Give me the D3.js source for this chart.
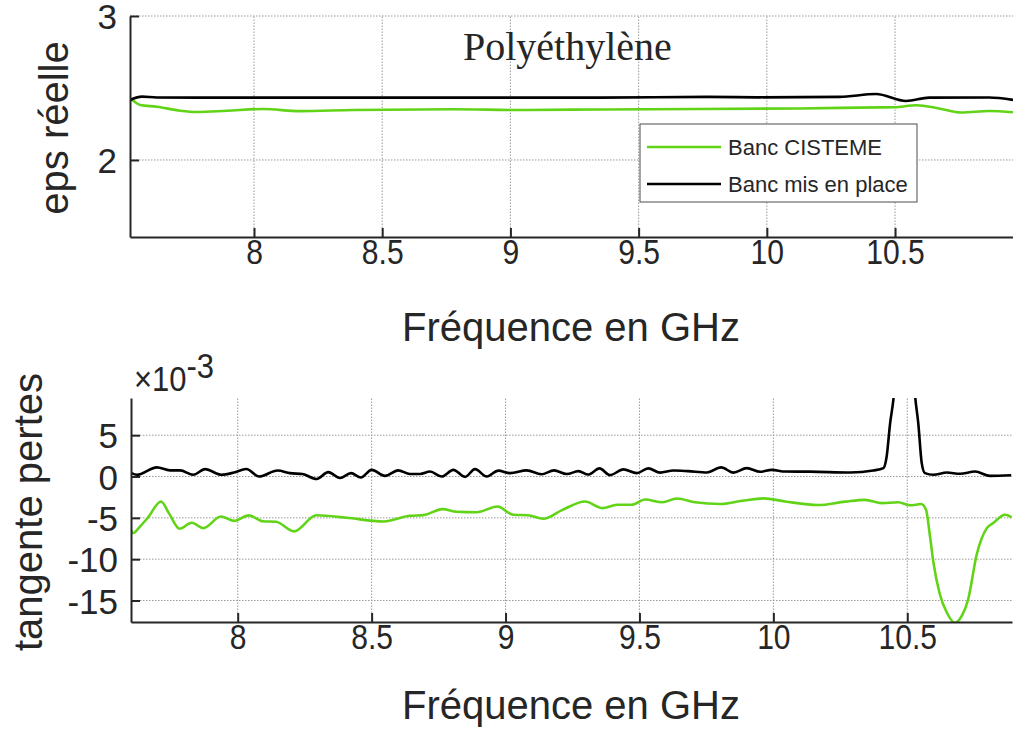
<!DOCTYPE html>
<html>
<head>
<meta charset="utf-8">
<script src="https://cdn.jsdelivr.net/npm/d3@7"></script>
<style>
    body { margin: 0; background: #fff; }
    text { font-family: "Liberation Sans", Arial, sans-serif; fill: #262626; }
</style>
</head>
<body>
<svg id="chart" width="1013" height="731"></svg>
<script>
// ---- data ----
const seriesNames = ["Banc CISTEME", "Banc mis en place"];
const freqTicks = [8, 8.5, 9, 9.5, 10, 10.5];
const epsTicks = [2, 3];
const tanTicks = [-15, -10, -5, 0, 5];   // in units of 1e-3

// eps réelle, green = Banc CISTEME
const epsFreqGreen = [7.517, 7.524, 7.556, 7.621, 7.712, 7.777, 7.894, 8.036, 8.179, 8.387, 8.776, 9.036, 9.348, 9.737, 10.127, 10.439, 10.497, 10.583, 10.672, 10.758, 10.867, 10.96];
const epsGreen = [2.424, 2.417, 2.382, 2.370, 2.342, 2.333, 2.342, 2.354, 2.339, 2.347, 2.352, 2.347, 2.351, 2.354, 2.358, 2.365, 2.366, 2.380, 2.358, 2.330, 2.340, 2.331];
// eps réelle, black = Banc mis en place
const epsFreqBlack = [7.517, 7.563, 7.621, 7.790, 9.348, 9.769, 9.971, 10.283, 10.426, 10.543, 10.633, 10.867, 10.96];
const epsBlack = [2.417, 2.440, 2.434, 2.433, 2.433, 2.438, 2.435, 2.438, 2.458, 2.410, 2.433, 2.434, 2.417];

// tangente pertes (x 1e-3), green = Banc CISTEME
const tanFreqGreen = [7.598, 7.610, 7.635, 7.663, 7.714, 7.743, 7.783, 7.828, 7.872, 7.937, 7.986, 8.042, 8.094, 8.143, 8.210, 8.294, 8.407, 8.544, 8.643, 8.693, 8.765, 8.818, 8.892, 8.970, 9.029, 9.084, 9.141, 9.211, 9.297, 9.362, 9.416, 9.472, 9.521, 9.586, 9.639, 9.708, 9.801, 9.883, 9.963, 10.044, 10.167, 10.268, 10.342, 10.405, 10.466, 10.510, 10.552, 10.570, 10.585, 10.597, 10.622, 10.648, 10.677, 10.704, 10.727, 10.759, 10.797, 10.821, 10.865, 10.890];
const tanGreen = [-6.24, -6.84, -6.05, -5.05, -3.02, -4.43, -6.32, -5.60, -6.24, -4.84, -5.36, -4.70, -5.42, -5.48, -6.63, -4.69, -4.99, -5.44, -4.75, -4.67, -3.94, -4.27, -4.33, -3.63, -4.63, -4.69, -5.11, -4.06, -3.02, -3.82, -3.42, -3.42, -2.78, -3.12, -2.66, -3.12, -3.33, -2.94, -2.64, -3.02, -3.45, -3.04, -2.82, -3.22, -3.12, -3.48, -3.33, -4.03, -7.26, -10.27, -14.30, -16.48, -17.69, -16.84, -14.91, -9.47, -6.24, -5.63, -4.63, -4.93];
// tangente pertes (x 1e-3), black = Banc mis en place
const tanFreqBlack = [7.604, 7.623, 7.698, 7.747, 7.785, 7.834, 7.878, 7.940, 7.986, 8.032, 8.080, 8.149, 8.195, 8.242, 8.295, 8.338, 8.382, 8.423, 8.460, 8.500, 8.550, 8.599, 8.643, 8.681, 8.718, 8.762, 8.805, 8.849, 8.886, 8.930, 8.973, 9.017, 9.079, 9.134, 9.181, 9.229, 9.272, 9.309, 9.351, 9.390, 9.440, 9.490, 9.533, 9.577, 9.627, 9.681, 9.752, 9.805, 9.851, 9.901, 9.951, 9.994, 10.044, 10.137, 10.287, 10.373, 10.411, 10.423, 10.436, 10.448, 10.465, 10.49, 10.515, 10.530, 10.541, 10.554, 10.566, 10.597, 10.648, 10.697, 10.753, 10.809, 10.888];
const tanBlack = [0.41, 0.21, 1.11, 0.75, 0.75, 0.21, 0.89, 0.21, 0.48, 0.91, 0.0, 0.73, 0.41, 0.30, -0.30, 0.53, -0.18, 0.41, -0.12, 0.81, 0.08, 0.75, 0.30, 0.30, 0.60, 0.0, 0.81, -0.04, 0.89, 0.0, 0.71, 0.41, 0.75, 0.27, 0.75, 0.30, 0.65, 0.24, 0.99, 0.17, 0.86, 0.41, 0.99, 0.47, 0.73, 0.65, 0.48, 1.11, 0.47, 1.02, 0.57, 0.81, 0.60, 0.59, 0.48, 0.73, 1.02, 2.42, 6.46, 9.27, 16, 22, 16, 9.48, 6.46, 1.62, 0.41, 0.21, 0.48, 0.33, 0.60, 0.08, 0.15];

const green = "#62d418";
const black = "#000000";
const axisColor = "#262626";
// the figure's x tick lettering is a bit narrow, squeeze it sideways
const tickSquash = 0.86;

const svg = d3.select("#chart");

// Axis limits (as in the figure)
const xTop = d3.scaleLinear().domain([7.5164, 10.96]).range([130, 1013]);
const yTop = d3.scaleLinear().domain([1.465, 3]).range([237, 16]);
const xBot = d3.scaleLinear().domain([7.6016, 10.891]).range([131, 1012]);
const yBot = d3.scaleLinear().domain([-17.6, 9.5]).range([622, 398]);

function drawPanel(id, x, y, yTicks) {
    const [x0, x1] = x.range();
    const [y0, y1] = y.range();

    svg.append("clipPath").attr("id", id)
        .append("rect")
        .attr("x", x0).attr("y", y1)
        .attr("width", x1 - x0).attr("height", y0 - y1);

    const g = svg.append("g");

    // dotted grid
    g.selectAll(".vgrid").data(freqTicks).enter().append("line")
        .attr("x1", d => x(d)).attr("x2", d => x(d))
        .attr("y1", y0).attr("y2", y1)
        .attr("stroke", "#9a9a9a").attr("stroke-width", 1)
        .attr("stroke-dasharray", "1.5,1.5");
    g.selectAll(".hgrid").data(yTicks).enter().append("line")
        .attr("x1", x0).attr("x2", x1)
        .attr("y1", d => y(d)).attr("y2", d => y(d))
        .attr("stroke", "#9a9a9a").attr("stroke-width", 1)
        .attr("stroke-dasharray", "1.5,1.5");

    // axes, ticks pointing inward like matlab
    const xAxis = svg.append("g")
        .attr("transform", `translate(0,${y0})`)
        .call(d3.axisBottom(x).tickValues(freqTicks).tickSizeInner(-9).tickSizeOuter(0).tickFormat(d => String(d)));
    xAxis.select(".domain").attr("stroke", axisColor).attr("stroke-width", 2);
    xAxis.selectAll(".tick line").attr("stroke", axisColor).attr("stroke-width", 2);
    xAxis.selectAll("text")
        .attr("y", 2).attr("dy", "0.71em")
        .attr("transform", `scale(${tickSquash},1)`)
        .style("font-size", "35px").style("font-family", "'Liberation Sans', Arial, sans-serif")
        .attr("fill", axisColor);

    const yAxis = svg.append("g")
        .attr("transform", `translate(${x0},0)`)
        .call(d3.axisLeft(y).tickValues(yTicks).tickSizeInner(-9).tickSizeOuter(0).tickFormat(d => String(d)));
    yAxis.select(".domain").attr("stroke", axisColor).attr("stroke-width", 2);
    yAxis.selectAll(".tick line").attr("stroke", axisColor).attr("stroke-width", 2);
    yAxis.selectAll("text")
        .attr("x", -13).attr("dy", "0.36em")
        .style("font-size", "35px").style("font-family", "'Liberation Sans', Arial, sans-serif")
        .attr("fill", axisColor);

    return g;
}

function drawLine(g, clipId, x, y, freqs, vals, color) {
    const line = d3.line()
        .x(d => x(d[0]))
        .y(d => y(d[1]))
        .curve(d3.curveMonotoneX);
    g.append("path")
        .datum(d3.zip(freqs, vals))
        .attr("clip-path", `url(#${clipId})`)
        .attr("fill", "none")
        .attr("stroke", color)
        .attr("stroke-width", 2.6)
        .attr("stroke-linejoin", "round")
        .attr("d", line);
}

// ---- top panel: eps réelle ----
const gTop = drawPanel("clipTop", xTop, yTop, epsTicks);
drawLine(gTop, "clipTop", xTop, yTop, epsFreqGreen, epsGreen, green);
drawLine(gTop, "clipTop", xTop, yTop, epsFreqBlack, epsBlack, black);

svg.append("text")
    .attr("x", 463).attr("y", 60)
    .style("font-family", "'Liberation Serif', 'Times New Roman', serif")
    .style("font-size", "40px")
    .attr("fill", "#000")
    .text("Polyéthylène");

svg.append("text")
    .attr("transform", "translate(68,128) rotate(-90)")
    .attr("text-anchor", "middle")
    .style("font-size", "40px")
    .text("eps réelle");

svg.append("text")
    .attr("x", 571).attr("y", 341)
    .attr("text-anchor", "middle")
    .style("font-size", "40px")
    .text("Fréquence en GHz");

// legend
const legend = svg.append("g");
legend.append("rect")
    .attr("x", 640).attr("y", 124).attr("width", 277).attr("height", 78)
    .attr("fill", "#fff").attr("stroke", "#4d4d4d").attr("stroke-width", 1);
const legendColors = [green, black];
seriesNames.forEach((name, i) => {
    const ly = 147 + i * 37;
    legend.append("line")
        .attr("x1", 647).attr("x2", 721).attr("y1", ly).attr("y2", ly)
        .attr("stroke", legendColors[i]).attr("stroke-width", 2.5);
    legend.append("text")
        .attr("x", 728).attr("y", ly).attr("dy", "0.35em")
        .style("font-size", "22px").attr("fill", "#000")
        .text(name);
});

// ---- bottom panel: tangente pertes ----
const gBot = drawPanel("clipBot", xBot, yBot, tanTicks);
drawLine(gBot, "clipBot", xBot, yBot, tanFreqGreen, tanGreen, green);
drawLine(gBot, "clipBot", xBot, yBot, tanFreqBlack, tanBlack, black);

// exponent label of the y axis
const expo = svg.append("text")
    .attr("transform", `translate(134,391) scale(${tickSquash},1)`)
    .style("font-size", "36px");
expo.append("tspan").text("×10");
expo.append("tspan").attr("dy", -13).text("-3");

svg.append("text")
    .attr("transform", "translate(42,512) rotate(-90)")
    .attr("text-anchor", "middle")
    .style("font-size", "40px")
    .text("tangente pertes");

svg.append("text")
    .attr("x", 571).attr("y", 719)
    .attr("text-anchor", "middle")
    .style("font-size", "40px")
    .text("Fréquence en GHz");
</script>
</body>
</html>
